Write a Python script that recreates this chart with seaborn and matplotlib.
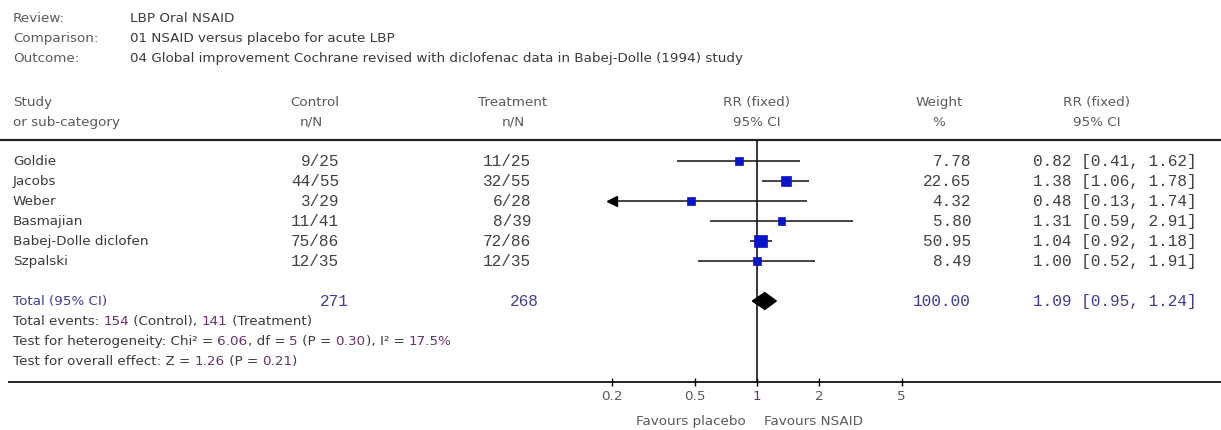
import matplotlib
matplotlib.use("Agg")
import matplotlib.pyplot as plt
import seaborn as sns
import numpy as np
import pandas as pd
from matplotlib.patches import Polygon

# ---------------- data ----------------
review = "LBP Oral NSAID"
comparison = "01 NSAID versus placebo for acute LBP"
outcome = "04 Global improvement Cochrane revised with diclofenac data in Babej-Dolle (1994) study"

studies = ["Goldie", "Jacobs", "Weber", "Basmajian", "Babej-Dolle diclofen", "Szpalski"]
ctrl_n = [9, 44, 3, 11, 75, 12]
ctrl_N = [25, 55, 29, 41, 86, 35]
trt_n = [11, 32, 6, 8, 72, 12]
trt_N = [25, 55, 28, 39, 86, 35]
weights = [7.78, 22.65, 4.32, 5.80, 50.95, 8.49]
rr = [0.82, 1.38, 0.48, 1.31, 1.04, 1.00]
rr_lo = [0.41, 1.06, 0.13, 0.59, 0.92, 0.52]
rr_hi = [1.62, 1.78, 1.74, 2.91, 1.18, 1.91]

total_ctrl = 271
total_trt = 268
total_weight = 100.00
total_rr = 1.09
total_lo = 0.95
total_hi = 1.24
events_ctrl = 154
events_trt = 141
chi2 = "6.06"
df_het = "5"
p_het = "0.30"
i2 = "17.5%"
z_val = "1.26"
p_z = "0.21"

ticks = [0.2, 0.5, 1, 2, 5]
tick_labels = ["0.2", "0.5", "1", "2", "5"]
favours_left = "Favours placebo"
favours_right = "Favours NSAID"

# ---------------- styling ----------------
sns.set_theme(style="white")
SANSF = ["DejaVu Sans"]
plt.rcParams["font.family"] = SANSF

W, H = 1221, 430
fig = plt.figure(figsize=(W / 100, H / 100), dpi=100)
fig.patch.set_facecolor("white")

GREY = "#5a5a5a"
DARK = "#3a3a3a"
MONO_C = "#404040"
BLUE_TXT = "#3c3c96"
PURPLE = "#6b2f6b"
SQ = "#0a14c8"
SANS = 9.7
MONO = 11.6
MONOF = "Liberation Mono"
DY = -1.2  # small vertical text nudge

# background axes in pixel coordinates for the table text
bg = fig.add_axes([0, 0, 1, 1])
bg.set_xlim(0, W)
bg.set_ylim(H, 0)
bg.axis("off")

def txt(x, y, s, ha="left", color=DARK, mono=False, size=None):
    return bg.text(x, y + DY, s, ha=ha, va="center_baseline", color=color,
                   family=MONOF if mono else SANSF,
                   fontsize=size if size else (MONO if mono else SANS))

# header block
for yy, lab, val in [(18, "Review:", review), (38, "Comparison:", comparison), (58, "Outcome:", outcome)]:
    txt(13, yy, lab, color=GREY)
    txt(130, yy, val, color=DARK)

# column headers
txt(13, 102, "Study", color=GREY)
txt(13, 122, "or sub-category", color=GREY)
txt(315, 102, "Control", ha="center", color=GREY)
txt(311, 122, "n/N", ha="center", color=GREY)
txt(513, 102, "Treatment", ha="center", color=GREY)
txt(513, 122, "n/N", ha="center", color=GREY)
txt(757, 102, "RR (fixed)", ha="center", color=GREY)
txt(757, 122, "95% CI", ha="center", color=GREY)
txt(939, 102, "Weight", ha="center", color=GREY)
txt(939, 122, "%", ha="center", color=GREY)
txt(1097, 102, "RR (fixed)", ha="center", color=GREY)
txt(1097, 122, "95% CI", ha="center", color=GREY)

bg.plot([0, W], [140, 140], color="#222222", lw=1.6, solid_capstyle="butt")
bg.plot([8, W], [382, 382], color="#222222", lw=1.4, solid_capstyle="butt")

row_y0, row_dy = 161, 20
for i, s in enumerate(studies):
    y = row_y0 + i * row_dy
    txt(13, y, s, color=DARK)
    txt(339, y, f"{ctrl_n[i]}/{ctrl_N[i]}", ha="right", mono=True, color=MONO_C)
    txt(531, y, f"{trt_n[i]}/{trt_N[i]}", ha="right", mono=True, color=MONO_C)
    txt(971, y, f"{weights[i]:.2f}", ha="right", mono=True, color=MONO_C)
    txt(1033, y, f"{rr[i]:.2f} [{rr_lo[i]:.2f}, {rr_hi[i]:.2f}]", mono=True, color=MONO_C)

ty = row_y0 + 7 * row_dy
txt(13, ty, "Total (95% CI)", color=BLUE_TXT)
txt(349, ty, f"{total_ctrl}", ha="right", mono=True, color=BLUE_TXT)
txt(539, ty, f"{total_trt}", ha="right", mono=True, color=BLUE_TXT)
txt(971, ty, f"{total_weight:.2f}", ha="right", mono=True, color=BLUE_TXT)
txt(1033, ty, f"{total_rr:.2f} [{total_lo:.2f}, {total_hi:.2f}]", mono=True, color=BLUE_TXT)

# multi-coloured footnote lines
fig.canvas.draw()
renderer = fig.canvas.get_renderer()
inv = bg.transData.inverted()

def multi(x, y, pieces):
    for s, c in pieces:
        t = txt(x, y, s, color=c)
        bb = t.get_window_extent(renderer=renderer)
        x0 = inv.transform((bb.x0, bb.y0))[0]
        x1 = inv.transform((bb.x1, bb.y0))[0]
        x = x + (x1 - x0)

multi(13, ty + 20, [("Total events: ", DARK), (f"{events_ctrl}", PURPLE), (" (Control), ", DARK),
                    (f"{events_trt}", PURPLE), (" (Treatment)", DARK)])
multi(13, ty + 40, [("Test for heterogeneity: Chi² = ", DARK), (chi2, PURPLE), (", df = ", DARK),
                    (df_het, PURPLE), (" (P = ", DARK), (p_het, PURPLE), ("), I² = ", DARK),
                    (i2, PURPLE)])
multi(13, ty + 60, [("Test for overall effect: Z = ", DARK), (z_val, PURPLE), (" (P = ", DARK),
                    (p_z, PURPLE), (")", DARK)])

# ---------------- forest axes ----------------
px_one, px_per_dec = 757.0, 207.0
xl = 10 ** ((8 - px_one) / px_per_dec)
xr = 10 ** ((W - px_one) / px_per_dec)
top_px, bot_px = 140, 382
ax = fig.add_axes([8 / W, 1 - bot_px / H, (W - 8) / W, (bot_px - top_px) / H])
ax.set_xscale("log")
ax.set_xlim(xl, xr)
y_top = (top_px - row_y0) / row_dy
y_bot = (bot_px - row_y0) / row_dy
ax.set_ylim(y_bot, y_top)
ax.patch.set_alpha(0)
for sp in ax.spines.values():
    sp.set_visible(False)

lo_lim, hi_lim = ticks[0], ticks[-1]
df = pd.DataFrame({"row": np.arange(len(studies)), "rr": rr, "lo": rr_lo, "hi": rr_hi, "w": weights})
df["lo_c"] = df["lo"].clip(lower=lo_lim)
df["hi_c"] = df["hi"].clip(upper=hi_lim)
ax.hlines(df["row"], df["lo_c"], df["hi_c"], color="#111111", lw=1.1, zorder=2)
left_arrows = df[df["lo"] < lo_lim]
ax.plot(left_arrows["lo_c"], left_arrows["row"], marker="<", ms=7, ls="none", color="black", zorder=3)
right_arrows = df[df["hi"] > hi_lim]
ax.plot(right_arrows["hi_c"], right_arrows["row"], marker=">", ms=7, ls="none", color="black", zorder=3)

sns.scatterplot(data=df, x="rr", y="row", size="w", sizes=(26, 78),
                size_norm=(min(weights), max(weights)), marker="s", color=SQ,
                edgecolor=SQ, linewidth=0.5, legend=False, ax=ax, zorder=4)

ax.axvline(1, color="black", lw=1.1, zorder=1)

trow = 7
diamond = Polygon([(total_lo, trow), (total_rr, trow - 0.42), (total_hi, trow), (total_rr, trow + 0.42)],
                  closed=True, facecolor="black", edgecolor="black", zorder=5)
ax.add_patch(diamond)

ax.set_xticks(ticks)
ax.set_xticklabels(tick_labels)
ax.xaxis.set_minor_locator(matplotlib.ticker.NullLocator())
ax.set_yticks([])
ax.set_xlabel("")
ax.set_ylabel("")
ax.tick_params(axis="x", which="major", direction="inout", length=6, width=1, color="black",
               labelsize=SANS, labelcolor=GREY, pad=3, bottom=True)
for lab in ax.get_xticklabels():
    lab.set_family(SANSF)
    if lab.get_text() == "1":
        lab.set_color(PURPLE)

txt(746, 421, favours_left, ha="right", color=GREY)
txt(764, 421, favours_right, ha="left", color=GREY)

fig.savefig("out.png", dpi=100, facecolor="white")
